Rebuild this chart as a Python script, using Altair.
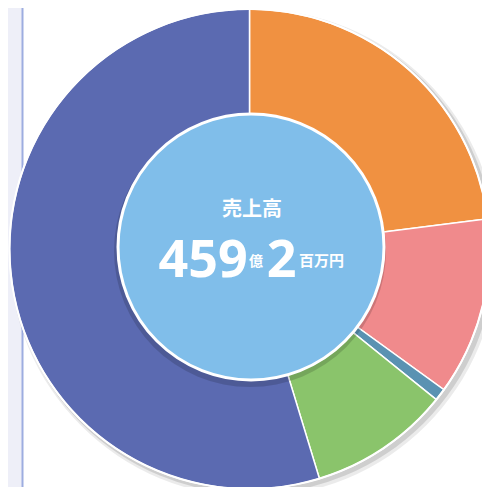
import altair as alt
import pandas as pd

# Data (億円)
segments = ["セグメントA", "セグメントB", "セグメントC", "セグメントD", "セグメントE"]
values = [105.6, 55.0, 3.8, 43.6, 251.2]
colors = ["#F09141", "#F08A8C", "#5A92B2", "#8AC46B", "#5B6AB1"]
order = [1, 2, 3, 4, 5]

title_text = "売上高"
big1, unit1, big2, unit2 = "459", "億", "2", "百万円"

df = pd.DataFrame({"segment": segments, "value": values, "order": order})

OX, OY = -8, -8  # page offset
def px(x): return x + OX
def py(y): return y + OY

CX, CY, R = px(249.5), py(249), 240
ICX, ICY, IR = px(251), py(247), 133

W, H = 474, 479

bg = pd.DataFrame({"k": [0]})

strip = alt.Chart(bg).mark_rect(color="#EEEFF8").encode(
    x=alt.value(0), x2=alt.value(px(22)), y=alt.value(0), y2=alt.value(H))
leftline = alt.Chart(bg).mark_rule(color="#9DADE0", strokeWidth=2).encode(
    x=alt.value(px(22.5)), y=alt.value(0), y2=alt.value(H))

shadow = alt.Chart(bg).mark_arc(color="#000000", opacity=0.12, outerRadius=R + 2).encode(
    theta=alt.value(6.2832), x=alt.value(CX + 3), y=alt.value(CY + 3))
shadow2 = alt.Chart(bg).mark_arc(color="#000000", opacity=0.08, outerRadius=R + 4).encode(
    theta=alt.value(6.2832), x=alt.value(CX + 4), y=alt.value(CY + 4))

pie = alt.Chart(df).mark_arc(outerRadius=R, stroke="white", strokeWidth=1.5).encode(
    theta=alt.Theta("value:Q", stack=True),
    order=alt.Order("order:Q"),
    color=alt.Color("segment:N", scale=alt.Scale(domain=segments, range=colors), legend=None),
    x=alt.value(CX), y=alt.value(CY),
)
ring = alt.Chart(bg).mark_arc(outerRadius=R + 1, innerRadius=R - 1, color="white").encode(
    theta=alt.value(6.2832), x=alt.value(CX), y=alt.value(CY))

ishadow = alt.Chart(bg).mark_arc(color="#000000", opacity=0.15, outerRadius=IR + 3).encode(
    theta=alt.value(6.2832), x=alt.value(ICX - 1), y=alt.value(ICY + 4))
inner = alt.Chart(bg).mark_arc(outerRadius=IR, fill="#80BEEA", stroke="white", strokeWidth=3).encode(
    theta=alt.value(6.2832), x=alt.value(ICX), y=alt.value(ICY))

def txt(t, x, y, size, weight="normal", font="Noto Sans CJK JP", align="center"):
    return alt.Chart(pd.DataFrame({"t": [t]})).mark_text(
        color="white", fontSize=size, fontWeight=weight, font=font, align=align,
        baseline="alphabetic").encode(text="t:N", x=alt.value(x), y=alt.value(y))

texts = [
    txt(title_text, px(252), py(216), 20, "bold"),
    txt(big1, px(203), py(277), 52, "bold", "Noto Sans"),
    txt(unit1, px(256), py(266), 14, "bold"),
    txt(big2, px(281.5), py(277), 52, "bold", "Noto Sans"),
    txt(unit2, px(321.5), py(266), 15, "bold"),
]

chart = alt.layer(strip, leftline, shadow2, shadow, pie, ring,
                  ishadow, inner, *texts).properties(
    width=W, height=H, padding=0, autosize="none", background="white"
).configure_view(stroke=None)

chart.save("out.html", embed_options={"renderer": "svg", "actions": False})
